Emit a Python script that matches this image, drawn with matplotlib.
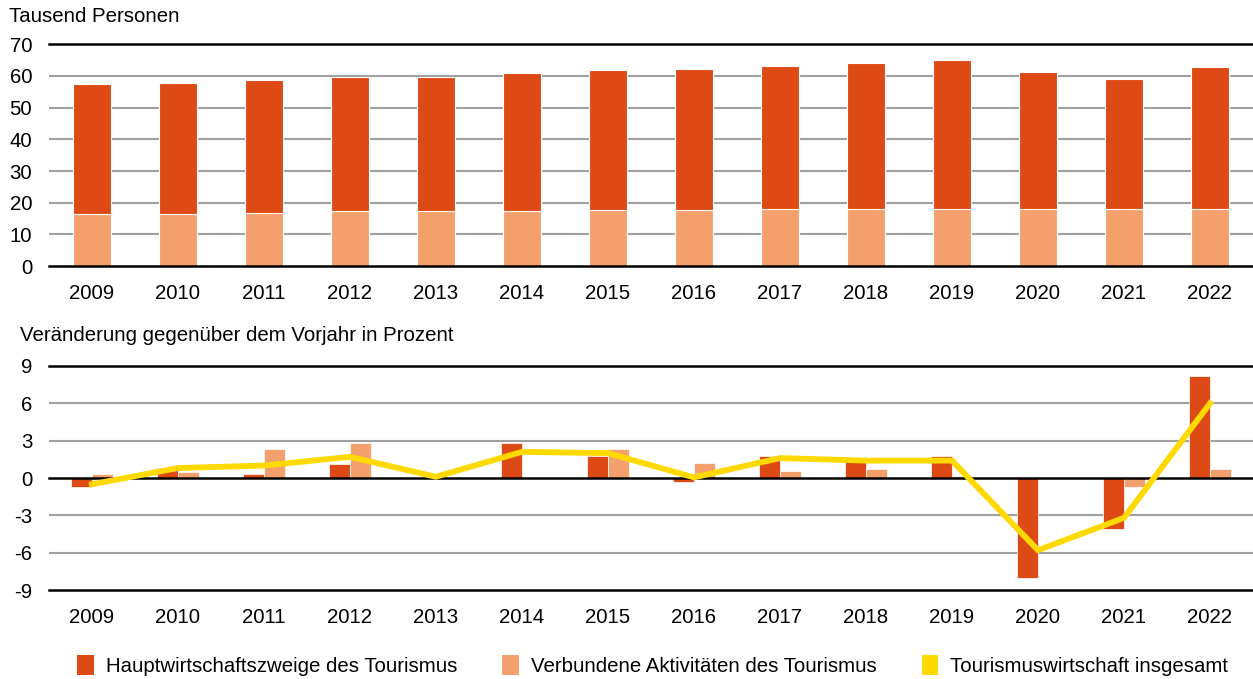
"""
Tourismuswirtschaft: Erwerbstätige und Veränderung gegenüber dem Vorjahr.
"""

import matplotlib.pyplot as plt
from matplotlib.patches import Patch

plt.rcParams["font.family"] = ["Liberation Sans", "DejaVu Sans"]

YEARS = ["2009", "2010", "2011", "2012", "2013", "2014", "2015",
         "2016", "2017", "2018", "2019", "2020", "2021", "2022"]

# Tausend Personen
verbunden_abs = [16.3, 16.5, 16.9, 17.3, 17.3, 17.3, 17.7,
                 17.8, 17.9, 18.0, 18.0, 18.0, 17.9, 17.9]
gesamt_abs = [57.4, 57.9, 58.6, 59.5, 59.6, 60.8, 62.0,
              62.1, 63.0, 64.0, 64.9, 61.1, 59.1, 62.7]
haupt_abs = [g - v for g, v in zip(gesamt_abs, verbunden_abs)]

# Veränderung gegenüber dem Vorjahr in Prozent
haupt_pct = [-0.7, 0.8, 0.3, 1.1, 0.0, 2.8, 1.8,
             -0.3, 1.8, 1.3, 1.8, -8.0, -4.1, 8.2]
verbunden_pct = [0.3, 0.5, 2.3, 2.8, 0.0, 0.0, 2.3,
                 1.2, 0.6, 0.7, 0.2, 0.0, -0.7, 0.7]
gesamt_pct = [-0.5, 0.8, 1.0, 1.7, 0.1, 2.1, 2.0,
              0.05, 1.6, 1.4, 1.4, -5.8, -3.2, 6.0]

TOP_TICKS = [0, 10, 20, 30, 40, 50, 60, 70]
BOTTOM_TICKS = [-9, -6, -3, 0, 3, 6, 9]

DARK = "#DE4A16"
LIGHT = "#F3A06C"
YELLOW = "#FFD900"
GRID = "#A0A0A0"
FS = 14.7


def style_axis(ax, ticks, black):
    for t in ticks:
        if t in black:
            ax.axhline(t, color="black", lw=1.8, zorder=4, clip_on=False)
        else:
            ax.axhline(t, color=GRID, lw=1.5, zorder=1)
    ax.set_yticks(ticks)
    ax.set_yticklabels([str(t) for t in ticks])
    ax.set_ylim(ticks[0], ticks[-1])
    ax.set_xticks(range(len(YEARS)))
    ax.set_xticklabels(YEARS)
    ax.set_xlim(-0.5, len(YEARS) - 0.5)
    ax.tick_params(axis="y", length=0, pad=12, labelsize=FS)
    ax.tick_params(axis="x", length=0, pad=13, labelsize=FS)
    for s in ax.spines.values():
        s.set_visible(False)


def edge_widths(values, lw):
    return [lw if v != 0 else 0 for v in values]


def main():
    fig = plt.figure(figsize=(12.53, 6.79), dpi=100)
    ax1 = fig.add_axes([0.039, 0.608, 0.961, 0.327])
    ax2 = fig.add_axes([0.039, 0.131, 0.961, 0.330])

    x = list(range(len(YEARS)))

    # top: stacked bars
    ax1.bar(x, verbunden_abs, width=0.45, color=LIGHT,
            edgecolor="white", lw=0.8, zorder=3)
    ax1.bar(x, haupt_abs, width=0.45, bottom=verbunden_abs, color=DARK,
            edgecolor="white", lw=0.8, zorder=3)
    style_axis(ax1, TOP_TICKS, black=(0, 70))

    # bottom: grouped bars + line
    ax2.bar([i - 0.125 for i in x], haupt_pct, width=0.245, color=DARK,
            edgecolor="white", lw=edge_widths(haupt_pct, 0.5), zorder=3)
    ax2.bar([i + 0.125 for i in x], verbunden_pct, width=0.245,
            color=LIGHT, edgecolor="white",
            lw=edge_widths(verbunden_pct, 0.5), zorder=3)
    ax2.plot(x, gesamt_pct, color=YELLOW, lw=4.2, zorder=5,
             solid_joinstyle="miter")
    style_axis(ax2, BOTTOM_TICKS, black=(-9, 0, 9))

    fig.text(0.007, 0.976, "Tausend Personen", fontsize=FS,
             ha="left", va="center")
    fig.text(0.016, 0.506, "Veränderung gegenüber dem Vorjahr in Prozent",
             fontsize=FS, ha="left", va="center")

    handles = [
        Patch(facecolor=DARK, label="Hauptwirtschaftszweige des Tourismus"),
        Patch(facecolor=LIGHT, label="Verbundene Aktivitäten des Tourismus"),
        Patch(facecolor=YELLOW, label="Tourismuswirtschaft insgesamt"),
    ]
    fig.legend(handles=handles, loc="center", bbox_to_anchor=(0.521, 0.02),
               ncol=3, frameon=False, fontsize=FS, handlelength=0.8,
               handleheight=1.1, handletextpad=0.6, columnspacing=2.2)

    fig.savefig("out.png", dpi=100)
    plt.close(fig)


if __name__ == "__main__":
    main()
